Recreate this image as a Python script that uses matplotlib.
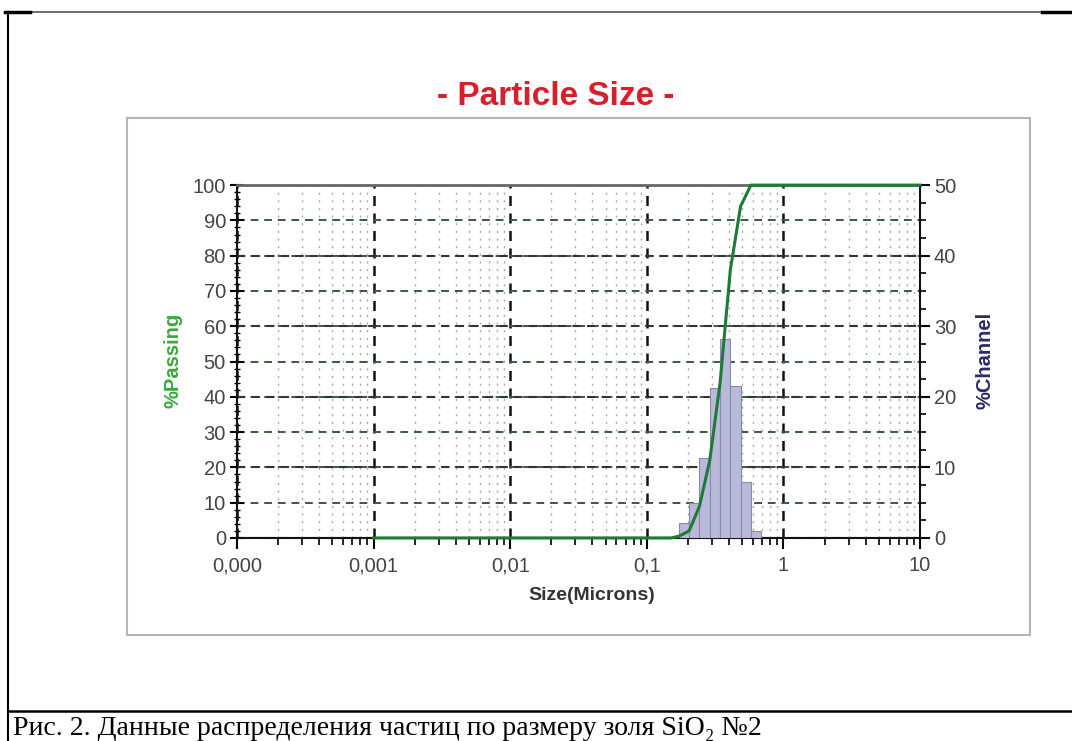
import numpy as np
import matplotlib
matplotlib.use("Agg")
import matplotlib.pyplot as plt
from matplotlib.ticker import MultipleLocator, LogLocator, FixedLocator, FixedFormatter, NullFormatter
from matplotlib.patches import Rectangle
from matplotlib.lines import Line2D

# данные: каналы (границы, мкм) и % в канале
bin_edges = [0.172, 0.204, 0.243, 0.289, 0.344, 0.409, 0.486, 0.578, 0.688]
channel_pct = [2.1, 5.0, 11.4, 21.2, 28.2, 21.5, 7.9, 1.0]

# кумулятивная кривая (% Passing)
cum_size = [0.001, 0.15, 0.172, 0.204, 0.243, 0.289, 0.344, 0.409, 0.486, 0.578, 0.688, 10]
cum_pct = [0, 0, 0.5, 2, 9, 22, 44, 76, 94, 100, 100, 100]

x_ticks = [0.0001, 0.001, 0.01, 0.1, 1, 10]
x_tick_labels = ["0,000", "0,001", "0,01", "0,1", "1", "10"]

plt.rcParams['font.family'] = ['Liberation Sans', 'DejaVu Sans']

fig = plt.figure(figsize=(10.72, 7.41), dpi=100)

# рамка документа
fig.add_artist(Line2D([0.005, 1.0], [0.9838, 0.9838], color='#555555', lw=1.2))
fig.add_artist(Line2D([0.005, 0.028], [0.9838, 0.9838], color='black', lw=2.5))
fig.add_artist(Line2D([0.972, 1.0], [0.9838, 0.9838], color='black', lw=2.5))
fig.add_artist(Line2D([0.0075, 0.0075], [0.0, 0.9838], color='black', lw=1.5))
fig.add_artist(Line2D([0.0075, 1.0], [0.0405, 0.0405], color='black', lw=1.8))
fig.text(0.012, 0.0075, "Рис. 2. Данные распределения частиц по размеру золя SiO₂ №2",
         family=['Liberation Serif', 'DejaVu Serif'], fontsize=20, color='black',
         va='baseline')

# рамка графика
fig.add_artist(Rectangle((0.1185, 0.143), 0.842, 0.698, transform=fig.transFigure,
                         fill=False, edgecolor='#b5b5b5', lw=1.5))

ax = fig.add_axes([0.2211, 0.274, 0.6371, 0.4762])
ax.set_xscale('log')
ax.set_xlim(1e-4, 10)
ax.set_ylim(0, 100)

# сетка
ax.grid(True, axis='x', which='major', color='#111111', ls=(0, (4, 3)), lw=1.8)
ax.grid(True, axis='x', which='minor', color='#a8a8a8', ls=(0, (1.5, 4)), lw=1.0)
ax.grid(True, axis='y', which='major', color='#3a5a3a', ls=(0, (4, 3)), lw=1.4)
for v in np.arange(0, 101, 20):
    ax.axhline(v, color='#333333', ls=(0, (4, 3)), lw=1.5, zorder=0.6)
ax.set_axisbelow(True)

ax.xaxis.set_major_locator(FixedLocator(x_ticks))
ax.xaxis.set_major_formatter(FixedFormatter(x_tick_labels))
ax.xaxis.set_minor_locator(LogLocator(base=10, subs=np.arange(2, 10), numticks=20))
ax.xaxis.set_minor_formatter(NullFormatter())
ax.yaxis.set_major_locator(MultipleLocator(10))
ax.yaxis.set_minor_locator(MultipleLocator(2))

ax.tick_params(axis='x', which='major', direction='out', length=8, width=1.5, pad=5,
               labelsize=14.5, labelcolor='#444444')
ax.tick_params(axis='x', which='minor', direction='out', length=5, width=1.2)
ax.tick_params(axis='y', which='major', direction='inout', length=10, width=1.5, pad=3,
               labelsize=14.5, labelcolor='#444444')
ax.tick_params(axis='y', which='minor', direction='inout', length=4, width=1.0)
for s in ['left', 'bottom']:
    ax.spines[s].set_color('#111111')
    ax.spines[s].set_linewidth(1.5)
ax.spines['top'].set_color('#666666')
ax.spines['top'].set_linewidth(2.0)
ax.spines['right'].set_visible(False)

# гистограмма на правой оси
ax2 = ax.twinx()
ax2.set_ylim(0, 50)
edges = np.array(bin_edges)
ax2.bar(edges[:-1], channel_pct, width=np.diff(edges), align='edge',
        color='#b9b9da', edgecolor='#8a8aa8', lw=0.8)
ax2.yaxis.set_major_locator(MultipleLocator(10))
ax2.yaxis.set_minor_locator(MultipleLocator(2.5))
ax2.tick_params(axis='y', which='major', direction='out', length=7, width=1.5, pad=3,
                labelsize=14.5, labelcolor='#444444')
ax2.tick_params(axis='y', which='minor', direction='out', length=4, width=1.2)
ax2.spines['right'].set_color('#111111')
ax2.spines['right'].set_linewidth(1.5)
for s in ['left', 'top', 'bottom']:
    ax2.spines[s].set_visible(False)

# кумулятивная кривая поверх
ax3 = ax.twinx()
ax3.set_ylim(0, 100)
ax3.plot(cum_size, cum_pct, color='#1e7a34', lw=2.2, clip_on=False)
ax3.axis('off')

fig.text(0.518, 0.870, "- Particle Size -", ha='center', va='center',
         fontsize=24, fontweight='bold', color='#d8202a')
fig.text(0.161, 0.514, "%Passing", rotation=90, ha='center', va='center',
         fontsize=14.5, fontweight='bold', color='#3aa83a')
fig.text(0.919, 0.514, "%Channel", rotation=90, ha='center', va='center',
         fontsize=14.5, fontweight='bold', color='#2a2a6a')
fig.text(0.552, 0.197, "Size(Microns)", ha='center', va='center',
         fontsize=14, fontweight='bold', color='#333333')

fig.savefig("out.png", dpi=100)
